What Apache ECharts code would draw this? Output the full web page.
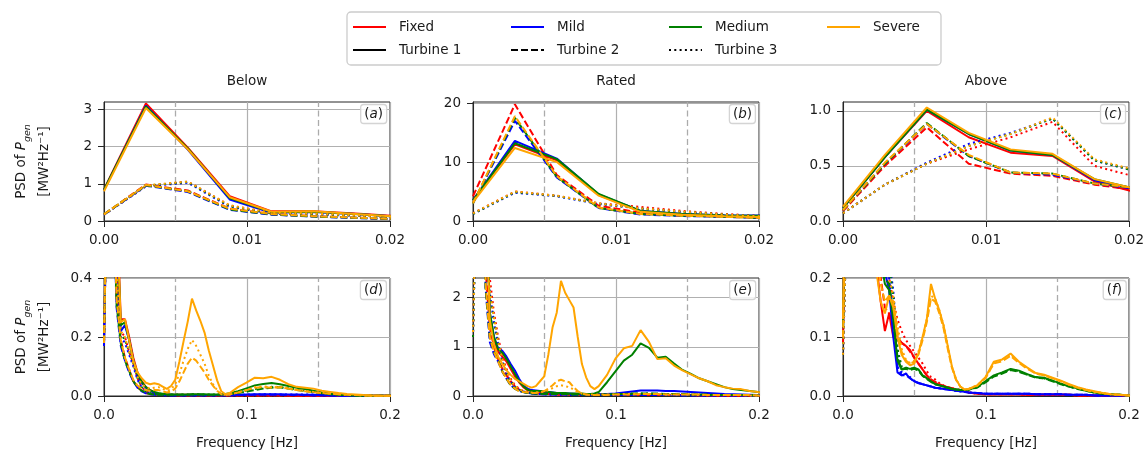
<!DOCTYPE html>
<html><head><meta charset="utf-8">
<script src="https://cdn.jsdelivr.net/npm/echarts@6/dist/echarts.min.js"></script>
<style>html,body{margin:0;padding:0;background:#fff}#c{width:1148px;height:456px}</style>
</head><body><div id="c"></div>
<script>
// ---------- frequency grid [Hz] ----------
const freq = [0, 0.00293, 0.00586, 0.00879, 0.01172, 0.01465, 0.01758, 0.02051, 0.02344, 0.02637,
  0.0293, 0.03223, 0.03516, 0.03809, 0.04102, 0.04395, 0.04688, 0.0498, 0.05273, 0.05566,
  0.05859, 0.06152, 0.06445, 0.06738, 0.07031, 0.07324, 0.07617, 0.0791, 0.08203, 0.08496,
  0.08789, 0.09375, 0.09961, 0.10547, 0.11133, 0.11719, 0.12305, 0.12891, 0.13477, 0.14063,
  0.14648, 0.15234, 0.1582, 0.16406, 0.16992, 0.17578, 0.18164, 0.1875, 0.19336, 0.19922, 0.20508];

// ---------- Below rated ----------
const below_fixed_t1 = [0.85, 3.16, 1.97, 0.67, 0.26, 0.26, 0.20, 0.13, 0.08, 0.05,
  0.03, 0.02, 0.012, 0.008, 0.006, 0.005, 0.004, 0.004, 0.004, 0.004,
  0.004, 0.004, 0.004, 0.003, 0.003, 0.003, 0.003, 0.003, 0.003, 0.003,
  0.003, 0.003, 0.003, 0.003, 0.003, 0.003, 0.003, 0.002, 0.002, 0.002,
  0.002, 0.002, 0.002, 0.001, 0.001, 0.001, 0.001, 0.001, 0.001, 0.001, 0.001];
const below_mild_t1 = [0.83, 3.10, 1.92, 0.58, 0.22, 0.24, 0.19, 0.12, 0.07, 0.045,
  0.028, 0.018, 0.011, 0.007, 0.005, 0.004, 0.004, 0.003, 0.003, 0.003,
  0.003, 0.003, 0.003, 0.003, 0.003, 0.003, 0.003, 0.003, 0.003, 0.003,
  0.004, 0.004, 0.005, 0.006, 0.006, 0.006, 0.006, 0.005, 0.005, 0.004,
  0.004, 0.003, 0.002, 0.002, 0.001, 0.001, 0.001, 0.001, 0.001, 0.001, 0.001];
const below_medium_t1 = [0.84, 3.08, 1.95, 0.62, 0.24, 0.25, 0.19, 0.12, 0.075, 0.048,
  0.03, 0.02, 0.014, 0.01, 0.008, 0.006, 0.005, 0.005, 0.005, 0.005,
  0.005, 0.006, 0.006, 0.006, 0.006, 0.005, 0.005, 0.005, 0.006, 0.007,
  0.009, 0.016, 0.026, 0.036, 0.041, 0.044, 0.04, 0.034, 0.028, 0.024,
  0.018, 0.012, 0.008, 0.005, 0.003, 0.002, 0.002, 0.001, 0.001, 0.001, 0.001];
const below_severe_t1 = [0.80, 3.04, 1.93, 0.64, 0.25, 0.26, 0.19, 0.12, 0.08, 0.06,
  0.045, 0.04, 0.043, 0.04, 0.032, 0.024, 0.034, 0.055, 0.117, 0.186,
  0.253, 0.33, 0.29, 0.255, 0.215, 0.155, 0.104, 0.053, 0.016, 0.006,
  0.01, 0.03, 0.045, 0.062, 0.06, 0.065, 0.055, 0.04, 0.031, 0.028,
  0.025, 0.018, 0.014, 0.01, 0.007, 0.005, 0.003, 0.002, 0.001, 0.001, 0.001];
const below_fixed_t2 = [0.18, 0.98, 0.82, 0.33, 0.19, 0.13, 0.09, 0.05, 0.03, 0.018,
  0.01, 0.007, 0.005, 0.004, 0.003, 0.003, 0.003, 0.003, 0.002, 0.002,
  0.002, 0.002, 0.002, 0.002, 0.002, 0.002, 0.002, 0.002, 0.002, 0.002,
  0.002, 0.002, 0.002, 0.002, 0.002, 0.002, 0.002, 0.002, 0.001, 0.001,
  0.001, 0.001, 0.001, 0.001, 0.001, 0.001, 0.001, 0.001, 0.001, 0.001, 0.001];
const below_mild_t2 = [0.17, 0.95, 0.78, 0.30, 0.17, 0.12, 0.08, 0.05, 0.028, 0.016,
  0.009, 0.006, 0.004, 0.003, 0.003, 0.002, 0.002, 0.002, 0.002, 0.002,
  0.002, 0.002, 0.002, 0.002, 0.002, 0.002, 0.002, 0.002, 0.002, 0.002,
  0.002, 0.003, 0.003, 0.004, 0.004, 0.004, 0.004, 0.003, 0.003, 0.003,
  0.002, 0.002, 0.002, 0.001, 0.001, 0.001, 0.001, 0.001, 0.001, 0.001, 0.001];
const below_medium_t2 = [0.18, 0.96, 0.80, 0.31, 0.18, 0.12, 0.085, 0.05, 0.03, 0.018,
  0.01, 0.007, 0.005, 0.004, 0.004, 0.004, 0.004, 0.004, 0.004, 0.004,
  0.004, 0.005, 0.005, 0.005, 0.004, 0.004, 0.004, 0.004, 0.005, 0.006,
  0.007, 0.01, 0.015, 0.02, 0.025, 0.028, 0.03, 0.025, 0.02, 0.017,
  0.013, 0.009, 0.006, 0.004, 0.003, 0.002, 0.001, 0.001, 0.001, 0.001, 0.001];
const below_severe_t2 = [0.18, 0.97, 0.80, 0.33, 0.19, 0.13, 0.09, 0.055, 0.035, 0.025,
  0.02, 0.018, 0.02, 0.02, 0.016, 0.012, 0.015, 0.025, 0.05, 0.08,
  0.11, 0.13, 0.12, 0.10, 0.08, 0.055, 0.035, 0.018, 0.006, 0.003,
  0.005, 0.012, 0.02, 0.028, 0.03, 0.028, 0.03, 0.025, 0.02, 0.016,
  0.013, 0.01, 0.008, 0.006, 0.004, 0.003, 0.002, 0.001, 0.001, 0.001, 0.001];
const below_fixed_t3 = [0.17, 0.94, 1.06, 0.42, 0.22, 0.20, 0.15, 0.11, 0.06, 0.03,
  0.016, 0.01, 0.007, 0.005, 0.004, 0.003, 0.003, 0.003, 0.003, 0.003,
  0.003, 0.003, 0.003, 0.003, 0.003, 0.002, 0.002, 0.002, 0.002, 0.002,
  0.002, 0.002, 0.002, 0.002, 0.002, 0.002, 0.002, 0.002, 0.002, 0.001,
  0.001, 0.001, 0.001, 0.001, 0.001, 0.001, 0.001, 0.001, 0.001, 0.001, 0.001];
const below_mild_t3 = [0.17, 0.93, 1.03, 0.38, 0.20, 0.18, 0.14, 0.10, 0.055, 0.028,
  0.015, 0.009, 0.006, 0.004, 0.003, 0.003, 0.003, 0.003, 0.003, 0.003,
  0.003, 0.003, 0.003, 0.003, 0.003, 0.003, 0.003, 0.003, 0.003, 0.003,
  0.003, 0.004, 0.005, 0.005, 0.006, 0.006, 0.005, 0.005, 0.005, 0.005,
  0.005, 0.004, 0.003, 0.002, 0.001, 0.001, 0.001, 0.001, 0.001, 0.001, 0.001];
const below_medium_t3 = [0.18, 0.95, 1.05, 0.40, 0.21, 0.19, 0.15, 0.11, 0.06, 0.03,
  0.016, 0.01, 0.007, 0.005, 0.005, 0.005, 0.005, 0.005, 0.005, 0.005,
  0.005, 0.006, 0.006, 0.005, 0.005, 0.005, 0.005, 0.005, 0.006, 0.007,
  0.008, 0.012, 0.018, 0.024, 0.028, 0.031, 0.03, 0.026, 0.022, 0.018,
  0.014, 0.01, 0.007, 0.004, 0.003, 0.002, 0.001, 0.001, 0.001, 0.001, 0.001];
const below_severe_t3 = [0.18, 0.96, 1.06, 0.42, 0.22, 0.20, 0.15, 0.11, 0.065, 0.04,
  0.03, 0.025, 0.028, 0.03, 0.025, 0.018, 0.022, 0.04, 0.075, 0.12,
  0.16, 0.19, 0.17, 0.14, 0.11, 0.07, 0.04, 0.02, 0.007, 0.003,
  0.005, 0.012, 0.02, 0.03, 0.033, 0.03, 0.032, 0.026, 0.021, 0.017,
  0.014, 0.011, 0.008, 0.006, 0.004, 0.003, 0.002, 0.001, 0.001, 0.001, 0.001];

// ---------- Rated ----------
const rated_fixed_t1 = [3.6, 13.0, 10.3, 4.4, 1.65, 1.15, 0.9, 0.8, 0.7, 0.55,
  0.4, 0.28, 0.18, 0.12, 0.1, 0.09, 0.08, 0.07, 0.06, 0.06,
  0.05, 0.05, 0.05, 0.04, 0.04, 0.04, 0.04, 0.03, 0.03, 0.03,
  0.03, 0.03, 0.03, 0.03, 0.03, 0.03, 0.03, 0.03, 0.02, 0.02,
  0.02, 0.02, 0.02, 0.02, 0.01, 0.01, 0.01, 0.01, 0.01, 0.01, 0.01];
const rated_mild_t1 = [3.5, 13.6, 10.6, 4.5, 1.7, 1.2, 0.97, 0.92, 0.8, 0.65,
  0.52, 0.35, 0.22, 0.15, 0.12, 0.11, 0.1, 0.09, 0.08, 0.07,
  0.06, 0.05, 0.05, 0.05, 0.045, 0.04, 0.04, 0.04, 0.035, 0.035,
  0.035, 0.04, 0.05, 0.07, 0.09, 0.11, 0.11, 0.11, 0.1, 0.1,
  0.09, 0.08, 0.07, 0.06, 0.05, 0.04, 0.035, 0.03, 0.025, 0.02, 0.02];
const rated_medium_t1 = [3.5, 13.2, 10.5, 4.6, 1.7, 1.2, 0.95, 0.88, 0.75, 0.6,
  0.45, 0.3, 0.2, 0.13, 0.1, 0.1, 0.1, 0.09, 0.08, 0.07,
  0.06, 0.06, 0.06, 0.05, 0.05, 0.05, 0.05, 0.04, 0.04, 0.05,
  0.08, 0.28, 0.5, 0.72, 0.84, 1.07, 0.98, 0.78, 0.8, 0.66,
  0.53, 0.45, 0.36, 0.3, 0.24, 0.18, 0.14, 0.12, 0.1, 0.08, 0.07];
const rated_severe_t1 = [3.2, 12.4, 10.0, 4.3, 1.55, 1.05, 0.8, 0.65, 0.52, 0.43,
  0.35, 0.3, 0.25, 0.2, 0.17, 0.2, 0.3, 0.4, 0.85, 1.4,
  1.7, 2.34, 2.1, 1.95, 1.8, 1.2, 0.65, 0.38, 0.2, 0.14,
  0.2, 0.43, 0.76, 0.97, 1.02, 1.34, 1.1, 0.75, 0.77, 0.62,
  0.52, 0.44, 0.36, 0.3, 0.22, 0.18, 0.15, 0.14, 0.1, 0.08, 0.07];
const rated_fixed_t2 = [4.2, 19.8, 7.8, 2.6, 1.4, 1.0, 0.75, 0.55, 0.42, 0.3,
  0.2, 0.13, 0.09, 0.07, 0.06, 0.05, 0.05, 0.04, 0.04, 0.04,
  0.03, 0.03, 0.03, 0.03, 0.03, 0.03, 0.02, 0.02, 0.02, 0.02,
  0.02, 0.02, 0.02, 0.02, 0.02, 0.02, 0.02, 0.02, 0.02, 0.02,
  0.02, 0.02, 0.01, 0.01, 0.01, 0.01, 0.01, 0.01, 0.01, 0.01, 0.01];
const rated_mild_t2 = [3.0, 17.0, 7.4, 2.2, 1.1, 0.85, 0.7, 0.5, 0.35, 0.22,
  0.15, 0.1, 0.08, 0.06, 0.05, 0.04, 0.04, 0.03, 0.03, 0.03,
  0.03, 0.03, 0.03, 0.02, 0.02, 0.02, 0.02, 0.02, 0.02, 0.02,
  0.02, 0.02, 0.02, 0.02, 0.02, 0.02, 0.02, 0.02, 0.02, 0.02,
  0.01, 0.01, 0.01, 0.01, 0.01, 0.01, 0.01, 0.01, 0.01, 0.01, 0.01];
const rated_medium_t2 = [3.0, 17.5, 7.5, 2.2, 1.2, 0.9, 0.74, 0.5, 0.35, 0.22,
  0.15, 0.1, 0.08, 0.06, 0.05, 0.05, 0.05, 0.04, 0.04, 0.04,
  0.04, 0.04, 0.04, 0.04, 0.03, 0.03, 0.03, 0.03, 0.03, 0.03,
  0.03, 0.03, 0.04, 0.04, 0.05, 0.05, 0.05, 0.05, 0.04, 0.04,
  0.04, 0.03, 0.03, 0.03, 0.02, 0.02, 0.02, 0.02, 0.02, 0.01, 0.01];
const rated_severe_t2 = [3.0, 17.8, 7.6, 2.3, 1.2, 0.9, 0.7, 0.5, 0.35, 0.23,
  0.15, 0.1, 0.08, 0.07, 0.06, 0.06, 0.08, 0.1, 0.15, 0.22,
  0.3, 0.33, 0.3, 0.28, 0.18, 0.1, 0.05, 0.03, 0.02, 0.02,
  0.02, 0.02, 0.03, 0.03, 0.03, 0.04, 0.04, 0.04, 0.03, 0.03,
  0.03, 0.03, 0.03, 0.02, 0.02, 0.02, 0.02, 0.02, 0.02, 0.01, 0.01];
const rated_fixed_t3 = [1.3, 5.0, 4.3, 3.0, 2.4, 1.7, 1.2, 0.8, 0.55, 0.35,
  0.22, 0.15, 0.1, 0.08, 0.06, 0.05, 0.05, 0.04, 0.04, 0.04,
  0.03, 0.03, 0.03, 0.03, 0.03, 0.03, 0.03, 0.02, 0.02, 0.02,
  0.02, 0.02, 0.02, 0.02, 0.02, 0.02, 0.02, 0.02, 0.02, 0.02,
  0.02, 0.02, 0.01, 0.01, 0.01, 0.01, 0.01, 0.01, 0.01, 0.01, 0.01];
const rated_mild_t3 = [1.2, 4.8, 4.2, 2.9, 2.1, 1.5, 1.05, 0.7, 0.45, 0.28,
  0.18, 0.12, 0.09, 0.07, 0.05, 0.05, 0.04, 0.04, 0.03, 0.03,
  0.03, 0.03, 0.03, 0.03, 0.02, 0.02, 0.02, 0.02, 0.02, 0.02,
  0.02, 0.02, 0.02, 0.03, 0.03, 0.03, 0.03, 0.03, 0.02, 0.02,
  0.02, 0.02, 0.01, 0.01, 0.01, 0.01, 0.01, 0.01, 0.01, 0.01, 0.01];
const rated_medium_t3 = [1.2, 4.9, 4.25, 2.95, 2.1, 1.55, 1.1, 0.72, 0.48, 0.3,
  0.19, 0.13, 0.09, 0.07, 0.06, 0.05, 0.05, 0.04, 0.04, 0.04,
  0.04, 0.04, 0.04, 0.03, 0.03, 0.03, 0.03, 0.03, 0.03, 0.03,
  0.03, 0.03, 0.04, 0.04, 0.04, 0.05, 0.05, 0.04, 0.04, 0.04,
  0.03, 0.03, 0.03, 0.02, 0.02, 0.02, 0.02, 0.02, 0.01, 0.01, 0.01];
const rated_severe_t3 = [1.3, 5.0, 4.3, 3.0, 2.15, 1.6, 1.1, 0.75, 0.5, 0.32,
  0.2, 0.14, 0.1, 0.08, 0.07, 0.07, 0.08, 0.09, 0.12, 0.16,
  0.2, 0.22, 0.2, 0.18, 0.13, 0.08, 0.05, 0.03, 0.03, 0.03,
  0.03, 0.03, 0.03, 0.04, 0.04, 0.04, 0.04, 0.04, 0.03, 0.03,
  0.03, 0.03, 0.02, 0.02, 0.02, 0.02, 0.02, 0.02, 0.01, 0.01, 0.01];

// ---------- Above rated ----------
const above_fixed_t1 = [0.12, 0.58, 1.0, 0.76, 0.62, 0.59, 0.36, 0.26, 0.22, 0.16,
  0.11, 0.14, 0.1, 0.095, 0.09, 0.085, 0.078, 0.065, 0.055, 0.045,
  0.035, 0.026, 0.022, 0.019, 0.017, 0.015, 0.013, 0.011, 0.01, 0.008,
  0.006, 0.004, 0.003, 0.003, 0.003, 0.003, 0.003, 0.002, 0.002, 0.002,
  0.002, 0.002, 0.002, 0.001, 0.001, 0.001, 0.001, 0.001, 0.001, 0.001, 0.001];
const above_mild_t1 = [0.12, 0.58, 1.01, 0.79, 0.64, 0.6, 0.37, 0.29, 0.26, 0.23,
  0.21, 0.18, 0.1, 0.04, 0.035, 0.038, 0.03, 0.025, 0.022, 0.02,
  0.018, 0.016, 0.014, 0.013, 0.012, 0.011, 0.01, 0.009, 0.008, 0.007,
  0.006, 0.005, 0.004, 0.004, 0.004, 0.004, 0.004, 0.004, 0.003, 0.003,
  0.003, 0.003, 0.002, 0.002, 0.002, 0.001, 0.001, 0.001, 0.001, 0.001, 0.001];
const above_medium_t1 = [0.12, 0.58, 1.01, 0.79, 0.64, 0.6, 0.38, 0.29, 0.26, 0.23,
  0.19, 0.18, 0.13, 0.06, 0.045, 0.048, 0.046, 0.048, 0.045, 0.035,
  0.03, 0.025, 0.02, 0.018, 0.016, 0.014, 0.012, 0.011, 0.01, 0.01,
  0.011, 0.015, 0.025, 0.035, 0.04, 0.046, 0.043, 0.037, 0.032, 0.031,
  0.026, 0.021, 0.016, 0.013, 0.009, 0.006, 0.004, 0.003, 0.002, 0.001, 0.001];
const above_severe_t1 = [0.13, 0.6, 1.03, 0.8, 0.65, 0.61, 0.38, 0.29, 0.21, 0.16,
  0.14, 0.17, 0.15, 0.1, 0.07, 0.058, 0.052, 0.055, 0.072, 0.1,
  0.13, 0.19, 0.165, 0.145, 0.12, 0.085, 0.05, 0.028, 0.016, 0.011,
  0.012, 0.018, 0.032, 0.058, 0.062, 0.072, 0.058, 0.048, 0.039, 0.036,
  0.031, 0.026, 0.02, 0.015, 0.011, 0.008, 0.005, 0.003, 0.002, 0.001, 0.001];
const above_fixed_t2 = [0.09, 0.5, 0.85, 0.52, 0.43, 0.41, 0.33, 0.28, 0.24, 0.2,
  0.15, 0.14, 0.12, 0.1, 0.09, 0.085, 0.075, 0.065, 0.055, 0.045,
  0.035, 0.028, 0.024, 0.02, 0.017, 0.015, 0.013, 0.011, 0.01, 0.008,
  0.006, 0.004, 0.003, 0.003, 0.003, 0.003, 0.003, 0.002, 0.002, 0.002,
  0.002, 0.002, 0.002, 0.001, 0.001, 0.001, 0.001, 0.001, 0.001, 0.001, 0.001];
const above_mild_t2 = [0.1, 0.52, 0.88, 0.59, 0.44, 0.42, 0.34, 0.29, 0.26, 0.24,
  0.22, 0.2, 0.12, 0.05, 0.035, 0.035, 0.03, 0.025, 0.022, 0.02,
  0.018, 0.016, 0.014, 0.013, 0.012, 0.011, 0.01, 0.009, 0.008, 0.007,
  0.006, 0.005, 0.004, 0.004, 0.004, 0.004, 0.004, 0.004, 0.003, 0.003,
  0.003, 0.003, 0.002, 0.002, 0.002, 0.001, 0.001, 0.001, 0.001, 0.001, 0.001];
const above_medium_t2 = [0.1, 0.52, 0.89, 0.59, 0.44, 0.43, 0.34, 0.3, 0.26, 0.23,
  0.2, 0.19, 0.14, 0.065, 0.045, 0.046, 0.044, 0.046, 0.043, 0.034,
  0.029, 0.024, 0.02, 0.018, 0.016, 0.014, 0.012, 0.011, 0.01, 0.01,
  0.011, 0.014, 0.023, 0.033, 0.038, 0.044, 0.041, 0.036, 0.031, 0.03,
  0.025, 0.02, 0.016, 0.012, 0.009, 0.006, 0.004, 0.003, 0.002, 0.001, 0.001];
const above_severe_t2 = [0.1, 0.53, 0.88, 0.6, 0.44, 0.43, 0.34, 0.3, 0.24, 0.19,
  0.16, 0.17, 0.16, 0.11, 0.075, 0.06, 0.055, 0.058, 0.07, 0.095,
  0.125, 0.165, 0.16, 0.14, 0.115, 0.08, 0.048, 0.027, 0.016, 0.011,
  0.012, 0.017, 0.03, 0.055, 0.059, 0.068, 0.056, 0.046, 0.038, 0.035,
  0.03, 0.025, 0.019, 0.014, 0.01, 0.007, 0.005, 0.003, 0.002, 0.001, 0.001];
const above_fixed_t3 = [0.07, 0.33, 0.52, 0.65, 0.76, 0.9, 0.5, 0.4, 0.34, 0.29,
  0.24, 0.2, 0.16, 0.13, 0.11, 0.095, 0.085, 0.075, 0.065, 0.055,
  0.042, 0.032, 0.028, 0.022, 0.018, 0.015, 0.013, 0.011, 0.01, 0.008,
  0.006, 0.004, 0.003, 0.003, 0.003, 0.003, 0.003, 0.002, 0.002, 0.002,
  0.002, 0.002, 0.002, 0.001, 0.001, 0.001, 0.001, 0.001, 0.001, 0.001, 0.001];
const above_mild_t3 = [0.07, 0.33, 0.53, 0.7, 0.8, 0.93, 0.55, 0.45, 0.38, 0.32,
  0.27, 0.23, 0.18, 0.08, 0.04, 0.038, 0.032, 0.026, 0.022, 0.02,
  0.018, 0.016, 0.014, 0.013, 0.012, 0.011, 0.01, 0.009, 0.008, 0.007,
  0.006, 0.005, 0.004, 0.004, 0.004, 0.004, 0.004, 0.004, 0.003, 0.003,
  0.003, 0.003, 0.002, 0.002, 0.002, 0.001, 0.001, 0.001, 0.001, 0.001, 0.001];
const above_medium_t3 = [0.07, 0.33, 0.52, 0.68, 0.79, 0.93, 0.55, 0.45, 0.38, 0.32,
  0.27, 0.22, 0.17, 0.08, 0.05, 0.048, 0.046, 0.047, 0.044, 0.035,
  0.03, 0.025, 0.02, 0.018, 0.016, 0.014, 0.012, 0.011, 0.01, 0.01,
  0.011, 0.015, 0.024, 0.034, 0.039, 0.045, 0.042, 0.036, 0.032, 0.03,
  0.026, 0.021, 0.016, 0.012, 0.009, 0.006, 0.004, 0.003, 0.002, 0.001, 0.001];
const above_severe_t3 = [0.07, 0.33, 0.52, 0.68, 0.79, 0.94, 0.56, 0.46, 0.38, 0.3,
  0.24, 0.2, 0.17, 0.12, 0.08, 0.062, 0.056, 0.06, 0.075, 0.1,
  0.13, 0.17, 0.165, 0.145, 0.12, 0.085, 0.05, 0.028, 0.016, 0.011,
  0.012, 0.018, 0.031, 0.056, 0.06, 0.07, 0.057, 0.047, 0.038, 0.035,
  0.03, 0.025, 0.019, 0.014, 0.01, 0.007, 0.005, 0.003, 0.002, 0.001, 0.001];

// ---------- labels / ticks ----------
const columnTitles = ['Below', 'Rated', 'Above'];
const severities = ['Fixed', 'Mild', 'Medium', 'Severe'];
const turbines = ['Turbine 1', 'Turbine 2', 'Turbine 3'];
const panelTags = ['a', 'b', 'c', 'd', 'e', 'f'];
const topXTicks = [0, 0.01, 0.02];
const bottomXTicks = [0, 0.1, 0.2];
const topDashX = [0.005, 0.015];
const bottomDashX = [0.05, 0.15];
const yTicks = [[0, 1, 2, 3], [0, 10, 20], [0, 0.5, 1.0], [0, 0.2, 0.4], [0, 1, 2], [0, 0.1, 0.2]];
const yMax = [3.2, 20.2, 1.08, 0.4, 2.4, 0.2];
const yDigits = [0, 0, 1, 1, 0, 1];

const columnData = [
  [[below_fixed_t1, below_fixed_t2, below_fixed_t3], [below_mild_t1, below_mild_t2, below_mild_t3],
   [below_medium_t1, below_medium_t2, below_medium_t3], [below_severe_t1, below_severe_t2, below_severe_t3]],
  [[rated_fixed_t1, rated_fixed_t2, rated_fixed_t3], [rated_mild_t1, rated_mild_t2, rated_mild_t3],
   [rated_medium_t1, rated_medium_t2, rated_medium_t3], [rated_severe_t1, rated_severe_t2, rated_severe_t3]],
  [[above_fixed_t1, above_fixed_t2, above_fixed_t3], [above_mild_t1, above_mild_t2, above_mild_t3],
   [above_medium_t1, above_medium_t2, above_medium_t3], [above_severe_t1, above_severe_t2, above_severe_t3]]
];

// ---------- styling ----------
const FONT = 'DejaVu Sans';
const FS = 13.5;
const INK = '#1a1a1a';
const sevColors = ['#ff0000', '#0000ff', '#008000', '#ffa500'];
const turbineDash = ['solid', [7, 3], [2, 3.3]];
const LW = 2;
const gridLefts = [104, 473, 843];
const gridW = 286;
const rowTops = [102, 278];
const rowHeights = [119, 118];

const grids = [], xAxes = [], yAxes = [], series = [], titles = [];
for (let r = 0; r < 2; r++) {
  for (let c = 0; c < 3; c++) {
    const i = r * 3 + c;
    grids.push({ left: gridLefts[c], top: rowTops[r], width: gridW, height: rowHeights[r],
      show: true, borderColor: '#262626', borderWidth: 1, backgroundColor: '#fff', containLabel: false });
    const xt = r === 0 ? topXTicks : bottomXTicks;
    xAxes.push({
      type: 'value', gridIndex: i, min: 0, max: r === 0 ? 0.02 : 0.2, interval: r === 0 ? 0.01 : 0.1,
      axisLine: { show: true, onZero: false, lineStyle: { color: '#262626', width: 1 } },
      axisTick: { show: true, length: 6, customValues: xt, lineStyle: { color: '#262626', width: 1 } },
      axisLabel: { customValues: xt, formatter: v => v.toFixed(r === 0 ? 2 : 1), fontSize: FS, color: INK, fontFamily: FONT, margin: 12 },
      splitLine: { show: true, lineStyle: { color: '#b0b0b0', width: 1.2 } },
      name: r === 1 ? 'Frequency [Hz]' : '', nameLocation: 'middle', nameGap: 40,
      nameTextStyle: { fontSize: FS, color: INK, fontFamily: FONT }
    });
    const isLeft = c === 0;
    yAxes.push({
      type: 'value', gridIndex: i, min: 0, max: yMax[i], interval: yTicks[i][1] - yTicks[i][0],
      axisLine: { show: true, onZero: false, lineStyle: { color: '#262626', width: 1 } },
      axisTick: { show: true, length: 6, customValues: yTicks[i], lineStyle: { color: '#262626', width: 1 } },
      axisLabel: { customValues: yTicks[i], formatter: v => v.toFixed(yDigits[i]), fontSize: FS, color: INK, fontFamily: FONT, margin: 12 },
      splitLine: { show: true, lineStyle: { color: '#b0b0b0', width: 1.2 } },
      name: isLeft ? '{n|PSD of }{i|P}{s|gen}\n{n|[MW²Hz⁻¹]}' : '',
      nameLocation: 'middle', nameRotate: 90, nameGap: 48,
      nameTextStyle: { fontSize: FS, color: INK, fontFamily: FONT, lineHeight: 23,
        rich: {
          n: { fontSize: FS, color: INK, fontFamily: FONT, lineHeight: 23 },
          i: { fontSize: FS, color: INK, fontFamily: FONT, fontStyle: 'italic', lineHeight: 23 },
          s: { fontSize: 9.5, color: INK, fontFamily: FONT, fontStyle: 'italic', lineHeight: 13, verticalAlign: 'bottom' }
        } }
    });
    // dashed vertical reference lines, drawn through the axes
    (r === 0 ? topDashX : bottomDashX).forEach(x => series.push({
      type: 'line', xAxisIndex: i, yAxisIndex: i, z: 1, silent: true, symbol: 'none', showSymbol: false,
      data: [[x, 0], [x, yMax[i]]],
      lineStyle: { type: [6, 3.5], color: '#ababab', width: 1.3 }, emphasis: { disabled: true }
    }));
    // panel tag
    titles.push({
      text: '({t|' + panelTags[i] + '})',
      right: 1148 - (gridLefts[c] + gridW) + 3, top: rowTops[r] + 2,
      padding: [3, 4, 3, 4], backgroundColor: 'rgba(255,255,255,0.85)',
      borderColor: '#d4d4d4', borderWidth: 1.3, borderRadius: 3,
      textStyle: { fontSize: FS, fontWeight: 'normal', color: INK, fontFamily: FONT,
        rich: { t: { fontSize: FS, fontStyle: 'italic', color: INK, fontFamily: FONT } } }
    });
  }
}
columnTitles.forEach((t, c) => titles.push({
  text: t, left: gridLefts[c] + gridW / 2, top: 74, textAlign: 'center', padding: 0,
  textStyle: { fontSize: FS, fontWeight: 'normal', color: INK, fontFamily: FONT }
}));

// data series: both rows of a column share the same spectra
for (let c = 0; c < 3; c++) {
  for (let s = 0; s < 4; s++) {
    for (let t = 0; t < 3; t++) {
      const arr = columnData[c][s][t];
      const pts = freq.map((f, k) => [f, arr[k]]);
      for (let r = 0; r < 2; r++) {
        const i = r * 3 + c;
        series.push({
          name: columnTitles[c] + ' ' + severities[s] + ' ' + turbines[t],
          type: 'line', xAxisIndex: i, yAxisIndex: i, data: pts, z: 3,
          showSymbol: false, symbol: 'none', clip: true, silent: true,
          lineStyle: { color: sevColors[s], width: LW, type: turbineDash[t] },
          itemStyle: { color: sevColors[s] }, emphasis: { disabled: true }
        });
      }
    }
  }
}
// legend proxy series
severities.forEach((s, k) => series.push({ name: s, type: 'line', xAxisIndex: 0, yAxisIndex: 0, data: [], symbol: 'none',
  lineStyle: { color: sevColors[k], width: LW, type: 'solid' }, itemStyle: { color: sevColors[k] } }));
turbines.forEach((t, k) => series.push({ name: t, type: 'line', xAxisIndex: 0, yAxisIndex: 0, data: [], symbol: 'none',
  lineStyle: { color: '#000', width: LW, type: turbineDash[k] }, itemStyle: { color: '#000' } }));

const legendNames = severities.concat(turbines);
const option = {
  animation: false,
  backgroundColor: '#fff',
  textStyle: { fontFamily: FONT },
  title: titles,
  grid: grids, xAxis: xAxes, yAxis: yAxes, series: series,
  legend: {
    left: 347, top: 12, width: 640, orient: 'horizontal', selectedMode: false,
    padding: [7, 12, 7, 5], itemWidth: 33, itemHeight: 16, itemGap: 7,
    borderColor: '#cccccc', borderWidth: 1.3, borderRadius: 4, backgroundColor: '#fff',
    itemStyle: { opacity: 0, borderWidth: 0 },
    textStyle: { fontSize: FS, color: INK, fontFamily: FONT, width: 104, lineHeight: 16, padding: [0, 0, 0, 8] },
    data: legendNames.map(n => n === 'Severe' ? { name: n, textStyle: { width: 56 } } : { name: n })
  }
};
const chart = echarts.init(document.getElementById('c'), null, { renderer: 'canvas' });
chart.setOption(option);
</script>
</body></html>
